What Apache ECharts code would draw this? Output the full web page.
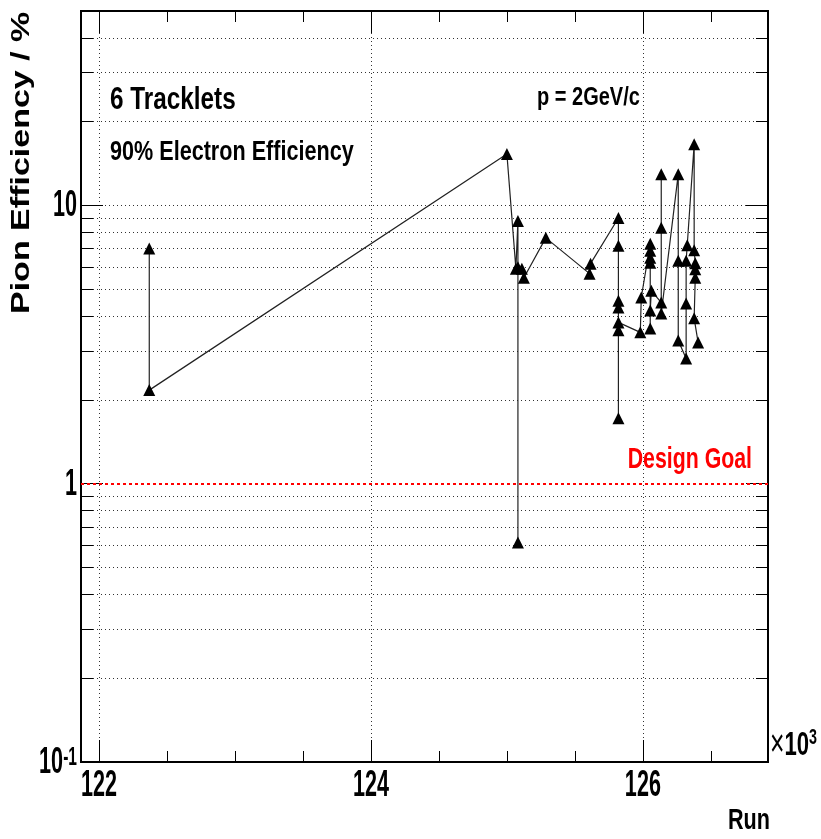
<!DOCTYPE html>
<html>
<head>
<meta charset="utf-8">
<script src="https://cdn.jsdelivr.net/npm/echarts@6/dist/echarts.min.js"></script>
<style>
html, body { margin: 0; padding: 0; background: #fff; }
#chart { width: 821px; height: 839px; }
</style>
</head>
<body>
<div id="chart"></div>
<script>
// run numbers and pion efficiency (%) in the order the graph connects them
var runNumbers = [122370, 122370, 125000, 125066, 125081, 125081, 125081, 125110, 125125, 125286,
    125608, 125615, 125820, 125820, 125820, 125820, 125820, 125820, 125820, 125981, 125988,
    126054, 126054, 126054, 126054, 126054, 126054, 126062,
    126135, 126135, 126135, 126135, 126260, 126260, 126260,
    126318, 126318, 126318, 126326, 126377, 126377, 126385, 126385, 126385, 126377, 126406];
var pionEff = [7.0, 2.17, 15.3, 5.93, 8.8, 0.615, 6.0, 5.93, 5.5, 7.65,
    5.69, 6.18, 9.02, 7.16, 4.55, 4.30, 1.72, 3.56, 3.80, 3.50, 4.67,
    7.28, 6.88, 6.49, 3.61, 6.23, 4.19, 4.94,
    4.48, 12.96, 8.31, 4.09, 12.96, 6.33, 3.27,
    2.82, 4.44, 6.33, 7.20, 16.6, 6.9, 6.2, 5.9, 5.5, 3.93, 3.22];

var xMajorTicks = [122000, 124000, 126000];
var xMinorTicks = [122500, 123000, 123500, 124500, 125000, 125500, 126500];
var yMajorTicks = [0.1, 1, 10];
var yMinorTicks = [0.2, 0.3, 0.4, 0.5, 0.6, 0.7, 0.8, 0.9, 2, 3, 4, 5, 6, 7, 8, 9, 20, 30, 40];
var designGoal = 1;

var xMin = 121868, xMax = 126920;
var yMin = 0.1, yMax = 50;

var seriesData = runNumbers.map(function (r, i) { return [r, pionEff[i]]; });

var textFont = '"Liberation Sans", Arial, sans-serif';

function xAxisDef(pos, ticks, len) {
    return {
        type: 'value', position: pos, min: xMin, max: xMax,
        axisLine: { show: false },
        splitLine: { show: false },
        axisLabel: { show: false },
        axisTick: { show: true, inside: true, length: len, customValues: ticks, lineStyle: { color: '#000', width: 1 } }
    };
}

function yAxisDef(pos, ticks, len) {
    return {
        type: 'log', logBase: 10, position: pos, min: yMin, max: yMax,
        axisLine: { show: false },
        splitLine: { show: false },
        axisLabel: { show: false },
        axisTick: { show: true, inside: true, length: len, customValues: ticks, lineStyle: { color: '#000', width: 1 } }
    };
}

var gridLines = [];
xMajorTicks.forEach(function (v) { gridLines.push({ xAxis: v }); });
yMajorTicks.concat(yMinorTicks).forEach(function (v) {
    if (v !== designGoal) gridLines.push({ yAxis: v });
});

var myChart = echarts.init(document.getElementById('chart'));

var texts = [
    { type: 'text', x: 110, y: 84, scaleX: 0.76, style: { text: '6 Tracklets', font: 'bold 32px ' + textFont, fill: '#000' } },
    { type: 'text', x: 537, y: 86, scaleX: 0.8, style: { text: 'p = 2GeV/c', font: 'bold 25px ' + textFont, fill: '#000' } },
    { type: 'text', x: 110, y: 139, scaleX: 0.8, style: { text: '90% Electron Efficiency', font: 'bold 27px ' + textFont, fill: '#000' } },
    { type: 'text', x: 9, y: 314, rotation: Math.PI / 2, scaleY: 0.75, style: { text: 'Pion Efficiency / %', font: 'bold 34px ' + textFont, fill: '#000' } },
    { type: 'text', x: 728, y: 806, scaleX: 0.72, style: { text: 'Run', font: 'bold 30px ' + textFont, fill: '#000' } },
    {
        type: 'text', x: 770, y: 727, scaleX: 0.65,
        style: {
            text: '{x|×}{n|10}{s|3}',
            rich: {
                x: { font: '38px ' + textFont, fill: '#000' },
                n: { font: 'bold 34px ' + textFont, fill: '#000' },
                s: { font: 'bold 22px ' + textFont, fill: '#000', verticalAlign: 'top' }
            }
        }
    }
];

option = {
    animation: false,
    backgroundColor: '#fff',
    grid: {
        left: 81, right: 53, top: 11, bottom: 77,
        show: true, borderColor: '#000', borderWidth: 2, backgroundColor: 'transparent'
    },
    xAxis: [
        xAxisDef('bottom', xMajorTicks, 22),
        xAxisDef('bottom', xMinorTicks, 11),
        xAxisDef('top', xMajorTicks, 22),
        xAxisDef('top', xMinorTicks, 11)
    ],
    yAxis: [
        yAxisDef('left', yMajorTicks, 22),
        yAxisDef('left', yMinorTicks, 12),
        yAxisDef('right', yMajorTicks, 22),
        yAxisDef('right', yMinorTicks, 12)
    ],
    graphic: texts,
    series: [
        {
            type: 'line', data: [], silent: true,
            markLine: {
                silent: true, symbol: 'none', animation: false,
                label: { show: false },
                lineStyle: { color: '#000', width: 1, type: [1, 3], opacity: 0.8 },
                data: gridLines
            }
        },
        {
            type: 'line', data: [], silent: true,
            markLine: {
                silent: true, symbol: 'none', animation: false,
                label: { show: false },
                lineStyle: { color: '#ff0000', width: 2, type: [3, 3] },
                data: [{ yAxis: designGoal }]
            }
        },
        {
            type: 'line', xAxisIndex: 0, yAxisIndex: 0, data: seriesData, z: 5,
            symbol: 'triangle', symbolSize: 12, showAllSymbol: true,
            itemStyle: { color: '#000' },
            lineStyle: { color: '#222', width: 1.2 }
        }
    ]
};

myChart.setOption(option);

// tick labels, placed where the axes put their ticks (narrow bold, like the ROOT font)
var tickLabels = [];
xMajorTicks.forEach(function (v) {
    var px = myChart.convertToPixel({ xAxisIndex: 0 }, v);
    tickLabels.push({
        type: 'text', x: px, y: 786, scaleX: 0.6,
        style: { text: String(Math.round(v / 1000)), font: 'bold 36px ' + textFont, fill: '#000', textAlign: 'center', textVerticalAlign: 'middle' }
    });
});
yMajorTicks.forEach(function (v) {
    var py = myChart.convertToPixel({ yAxisIndex: 0 }, v);
    var e = Math.round(Math.log10(v));
    var txt = e < 0 ? '{m|10}{s|' + e + '}' : '{m|' + Math.pow(10, e) + '}';
    tickLabels.push({
        type: 'text', x: 77, y: py + 1, scaleX: 0.6,
        style: {
            text: txt, textAlign: 'right', textVerticalAlign: 'middle',
            rich: {
                m: { font: 'bold 36px ' + textFont, fill: '#000' },
                s: { font: 'bold 26px ' + textFont, fill: '#000', verticalAlign: 'top' }
            }
        }
    });
});
var goalY = myChart.convertToPixel({ yAxisIndex: 0 }, designGoal);
tickLabels.push({
    type: 'text', x: 752, y: goalY - 24, scaleX: 0.71,
    style: { text: 'Design Goal', font: 'bold 30px ' + textFont, fill: '#ff0000', textAlign: 'right', textVerticalAlign: 'middle' }
});

myChart.setOption({ graphic: texts.concat(tickLabels) });
</script>
</body>
</html>
